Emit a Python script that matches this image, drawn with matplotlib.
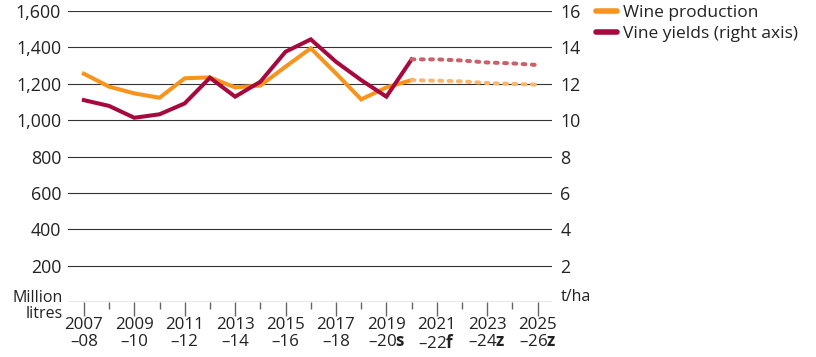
import matplotlib
matplotlib.use("Agg")
import matplotlib.pyplot as plt
from matplotlib.lines import Line2D

plt.rcParams['font.family'] = ['Open Sans', 'DejaVu Sans']
plt.rcParams['mathtext.fontset'] = 'custom'
plt.rcParams['mathtext.rm'] = 'Open Sans'
plt.rcParams['mathtext.bf'] = 'Open Sans:bold'

# Data
years = list(range(2007, 2026))
production = [1255, 1184, 1147, 1123, 1230, 1235, 1180, 1190, 1294, 1395,
              1257, 1114, 1180, 1220, 1217, 1213, 1204, 1199, 1195]
yields = [11.1, 10.78, 10.13, 10.32, 10.92, 12.33, 11.29, 12.11, 13.76, 14.44,
          13.21, 12.2, 11.29, 13.34, 13.34, 13.28, 13.17, 13.12, 13.03]
last_actual = 2020
tick_years = [2007, 2009, 2011, 2013, 2015, 2017, 2019, 2021, 2023, 2025]
tick_labels = ['2007\n–08', '2009\n–10', '2011\n–12', '2013\n–14', '2015\n–16',
               '2017\n–18', '2019\n–20$\\mathbf{s}$', '2021\n–22$\\mathbf{f}$',
               '2023\n–24$\\mathbf{z}$', '2025\n–26$\\mathbf{z}$']

ORANGE = '#F7941E'
RED = '#A6093D'
ORANGE_F = '#FBB66E'
RED_F = '#C8626A'

fig = plt.figure(figsize=(8.16, 3.57), dpi=100)
ax = fig.add_axes([68 / 816, 1 - 302 / 357, (552 - 68) / 816, (302 - 11) / 357])
ax2 = ax.twinx()

n = years.index(last_actual) + 1
dots = (0, (0.7, 1.6))

ax.plot(years[:n], production[:n], color=ORANGE, lw=2.9, solid_joinstyle='miter', zorder=3)
ax.plot(years[n - 1:], production[n - 1:], color=ORANGE_F, lw=2.9, ls=dots,
        dash_capstyle='round', zorder=3)
ax2.plot(years[:n], yields[:n], color=RED, lw=2.9, solid_joinstyle='miter', zorder=4)
ax2.plot(years[n - 1:], yields[n - 1:], color=RED_F, lw=2.9, ls=dots,
         dash_capstyle='round', zorder=4)

ax.set_ylim(0, 1600)
ax2.set_ylim(0, 16)
ax.set_xlim(2006.37, 2025.57)

ax.set_yticks(range(200, 1601, 200))
ax.set_yticklabels([f'{v:,}' for v in range(200, 1601, 200)])
ax2.set_yticks(range(2, 17, 2))
for y in range(200, 1601, 200):
    ax.axhline(y, color='#333333', lw=0.8, zorder=1)
ax.axhline(0, color='#888888', lw=1.0, zorder=1)

ax.set_xticks(tick_years)
ax.set_xticklabels(tick_labels, linespacing=1.05)
ax.set_xticks([y for y in years if y not in tick_years], minor=True)

for a in (ax, ax2):
    for s in a.spines.values():
        s.set_visible(False)
    a.tick_params(axis='y', length=0, labelsize=12.8, colors='#222222', pad=5)
ax2.tick_params(axis='y', pad=6)
ax.tick_params(axis='x', which='major', length=10, width=1, color='#666666',
               labelsize=12.2, labelcolor='#222222', pad=1)
ax.tick_params(axis='x', which='minor', length=5, width=1, color='#666666')
ax.set_facecolor('none')
ax2.set_zorder(ax.get_zorder() + 1)

fig.text(63 / 816, 1 - 306 / 357, 'Million\nlitres', ha='right', va='center',
         fontsize=11.5, color='#222222', linespacing=0.95)
fig.text(561 / 816, 1 - 297 / 357, 't/ha', ha='left', va='center',
         fontsize=11.5, color='#222222')

handles = [Line2D([0], [0], color=ORANGE, lw=4, solid_capstyle='round'),
           Line2D([0], [0], color=RED, lw=4, solid_capstyle='round')]
fig.legend(handles, ['Wine production', 'Vine yields (right axis)'],
           loc='upper left', bbox_to_anchor=(589 / 816, 1 + 2 / 357), frameon=False,
           fontsize=12.5, handlelength=1.2, handletextpad=0.35, labelspacing=0.3,
           borderaxespad=0, labelcolor='#222222')

fig.savefig('out.png', dpi=100)
